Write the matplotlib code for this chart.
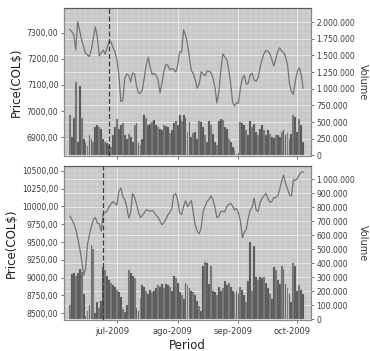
import numpy as np
import pandas as pd
import matplotlib
matplotlib.use("Agg")
import matplotlib.pyplot as plt
import matplotlib.dates as mdates
import matplotlib.transforms as mtransforms
from matplotlib.ticker import FuncFormatter, FixedLocator, MultipleLocator

# ---------------- data ----------------
dates = pd.date_range("2009-06-07", "2009-10-04", freq="D")

price_top = [7313, 7305, 7292, 7235, 7343, 7309, 7273, 7247, 7222, 7215,
             7210, 7238, 7282, 7323, 7283, 7212, 7223, 7234, 7218, 7243,
             7268, 7266, 7244, 7227, 7196, 7138, 7036, 7042, 7126, 7142,
             7138, 7112, 7146, 7142, 7097, 7069, 7069, 7083, 7129, 7180,
             7206, 7167, 7140, 7145, 7137, 7117, 7070, 7109, 7155, 7178,
             7176, 7158, 7163, 7160, 7150, 7176, 7227, 7227, 7312, 7292,
             7257, 7204, 7155, 7143, 7118, 7088, 7105, 7151, 7142, 7136,
             7154, 7153, 7147, 7127, 7092, 7031, 7073, 7154, 7220, 7208,
             7199, 7161, 7107, 7033, 7019, 7032, 7030, 7091, 7126, 7137,
             7103, 7106, 7140, 7145, 7119, 7114, 7128, 7165, 7197, 7220,
             7233, 7230, 7220, 7199, 7173, 7198, 7228, 7243, 7231, 7224,
             7210, 7178, 7107, 7075, 7064, 7115, 7151, 7166, 7141, 7088]

volume_top = [600, 270, 560, 1100, 200, 1040, 560, 250, 180, 140,
              300, 250, 200, 430, 450, 420, 400, 250, 200, 180,
              150, 120, 300, 420, 540, 400, 450, 480, 300, 250,
              320, 280, 200, 460, 480, 180, 150, 250, 600, 560,
              460, 470, 500, 530, 460, 420, 400, 380, 460, 440,
              420, 330, 380, 480, 520, 450, 600, 520, 600, 560,
              350, 500, 280, 330, 350, 250, 520, 500, 420, 300,
              200, 520, 450, 320, 200, 150, 520, 550, 530, 420,
              400, 250, 200, 120, 80, 20, 30, 500, 480, 450,
              380, 300, 520, 420, 470, 350, 300, 400, 450, 380,
              300, 380, 320, 280, 260, 300, 310, 280, 350, 380,
              300, 340, 250, 320, 600, 580, 350, 540, 450, 200]
volume_top = [v * 1000 for v in volume_top]

price_bot = [9863, 9815, 9758, 9676, 9553, 9415, 9247, 9032, 9125, 9469,
             9602, 9721, 9818, 9843, 9766, 9756, 9651, 9902, 9915, 9930,
             9993, 10036, 10064, 10041, 10019, 10211, 10259, 10134, 10099, 9995,
             9836, 9914, 10179, 10125, 10033, 9915, 9845, 9873, 9912, 9954,
             9943, 9929, 9944, 9916, 9873, 9845, 9794, 9742, 9773, 9822,
             9881, 9916, 9970, 10160, 10179, 10085, 9907, 9888, 9998, 10079,
             9995, 10037, 10083, 9895, 9733, 9648, 9616, 9706, 9933, 10006,
             10069, 10097, 10148, 10089, 9984, 9843, 9860, 9928, 9929, 9922,
             9992, 10027, 10041, 10005, 9950, 9970, 9905, 9791, 9560, 9641,
             9679, 9836, 9949, 9986, 10117, 9949, 9926, 10048, 10110, 10148,
             10183, 10111, 10055, 10066, 10123, 10124, 10144, 10235, 10350, 10440,
             10327, 10246, 10159, 10145, 10370, 10370, 10384, 10445, 10482, 10482]

volume_bot = [100, 320, 330, 310, 330, 360, 340, 180, 20, 60,
              100, 530, 500, 40, 120, 80, 130, 370, 350, 310,
              280, 260, 240, 230, 210, 190, 160, 70, 50, 100,
              350, 330, 310, 290, 80, 60, 150, 240, 230, 200,
              180, 210, 190, 200, 220, 240, 230, 250, 220, 250,
              240, 230, 200, 310, 290, 260, 190, 170, 140, 260,
              240, 220, 200, 190, 170, 130, 90, 60, 380, 410,
              400, 250, 380, 200, 190, 170, 230, 200, 220, 270,
              240, 260, 230, 200, 180, 200, 180, 230, 210, 170,
              120, 270, 550, 200, 520, 300, 280, 300, 290, 300,
              260, 220, 180, 140, 370, 350, 280, 250, 380, 360,
              250, 220, 180, 120, 400, 380, 200, 240, 210, 180]
volume_bot = [v * 1000 for v in volume_bot]

marker_top = "2009-06-27"
marker_bot = "2009-06-24"

month_ticks = ["2009-07-01", "2009-08-01", "2009-09-01", "2009-10-01"]
month_labels = ["jul-2009", "ago-2009", "sep-2009", "oct-2009"]

price_ticks_top = [6900, 7000, 7100, 7200, 7300]
vol_ticks_top = [0, 250000, 500000, 750000, 1000000, 1250000, 1500000, 1750000, 2000000]
price_ticks_bot = [8500, 8750, 9000, 9250, 9500, 9750, 10000, 10250, 10500]
vol_ticks_bot = [0, 100000, 200000, 300000, 400000, 500000, 600000, 700000, 800000, 900000, 1000000]

# ---------------- style ----------------
W, H = 370, 351
fig = plt.figure(figsize=(W / 100, H / 100), dpi=100)
fig.patch.set_facecolor("white")

BG = "#c8c8c8"
LINE = "#747474"
BAR_DARK = "#505050"
BAR_LIGHT = "#727272"
TXT = "#3a3a3a"

price_fmt = FuncFormatter(lambda v, p: f"{v:.2f}".replace(".", ","))
vol_fmt = FuncFormatter(lambda v, p: f"{int(round(v)):,}".replace(",", "."))

xlim = (mdates.date2num(pd.Timestamp("2009-06-04")), mdates.date2num(pd.Timestamp("2009-10-08")))
xd = mdates.date2num(dates)
bar_colors = [BAR_DARK if (k % 3) else BAR_LIGHT for k in range(len(dates))]


def make_panel(rect, prices, vols, plim, vlim, pticks, vticks, marker, show_x):
    axv = fig.add_axes(rect)
    axp = axv.twinx()

    axv.set_facecolor(BG)
    axv.bar(xd, vols, width=0.95, color=bar_colors, edgecolor="#9c9c9c",
            linewidth=0.2, zorder=2)
    axv.set_xlim(*xlim)
    axv.set_ylim(*vlim)
    axv.yaxis.set_major_locator(FixedLocator(vticks))
    axv.yaxis.set_major_formatter(vol_fmt)
    axv.yaxis.set_minor_locator(MultipleLocator((vticks[1] - vticks[0]) / 3))
    axv.xaxis.set_minor_locator(mdates.DayLocator(interval=3))
    axv.grid(which="major", axis="both", color="white", lw=0.5, alpha=0.8, zorder=0)
    axv.grid(which="minor", axis="both", color="white", lw=0.35, alpha=0.35, zorder=0)
    axv.set_axisbelow(True)

    axp.plot(xd, prices, color=LINE, lw=0.9, zorder=3)
    axp.axvline(mdates.date2num(pd.Timestamp(marker)), color="#3c3c3c", lw=0.9,
                ls=(0, (4, 2)), zorder=4)
    axp.set_xlim(*xlim)
    axp.set_ylim(*plim)
    axp.yaxis.set_major_locator(FixedLocator(pticks))
    axp.yaxis.set_major_formatter(price_fmt)

    # swap sides: volume on the right, price on the left
    axv.yaxis.tick_right()
    axv.yaxis.set_label_position("right")
    axp.yaxis.tick_left()
    axp.yaxis.set_label_position("left")
    axv.set_ylabel("Volume", rotation=270, labelpad=9, fontsize=7, color=TXT)
    axp.set_ylabel("Price(COL$)", fontsize=8.5, color="#1e1e1e", labelpad=3)

    for a in (axv, axp):
        a.tick_params(axis="y", which="major", labelsize=5.5, colors=TXT, length=2,
                      width=0.5, pad=2)
        a.tick_params(axis="y", which="minor", length=0)
        for s in a.spines.values():
            s.set_color("#8a8a8a")
            s.set_linewidth(0.8)
    axp.spines["top"].set_color("#5a5a5a")

    xt = mdates.date2num(pd.to_datetime(month_ticks))
    axv.xaxis.set_major_locator(FixedLocator(xt))
    axv.tick_params(axis="x", which="major", length=2, width=0.5, colors=TXT,
                    labelsize=6, pad=3)
    axv.tick_params(axis="x", which="minor", length=0)
    axp.tick_params(axis="x", which="both", length=0, labelbottom=False)
    if show_x:
        axv.set_xticklabels(month_labels)
        off = mtransforms.ScaledTranslation(-5 / 100, 0, fig.dpi_scale_trans)
        for lbl in axv.get_xticklabels():
            lbl.set_transform(lbl.get_transform() + off)
        axv.set_xlabel("Period", fontsize=8.5, color="#222222", labelpad=2)
    else:
        axv.set_xticklabels([])
    return axv, axp


def frac(l, t, r, b):
    return [l / W, 1 - b / H, (r - l) / W, (b - t) / H]


make_panel(frac(64, 8, 311, 156), price_top, volume_top, (6827, 7396),
           (-10000, 2210000), price_ticks_top, vol_ticks_top, marker_top, False)
make_panel(frac(64, 166, 311, 320), price_bot, volume_bot, (8406, 10566),
           (-7000, 1095000), price_ticks_bot, vol_ticks_bot, marker_bot, True)

fig.savefig("out.png", dpi=100, facecolor="white")
